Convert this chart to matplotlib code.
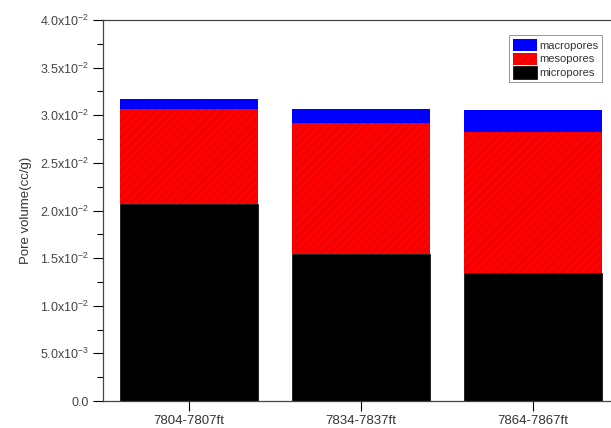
import matplotlib
matplotlib.use("Agg")
import matplotlib.pyplot as plt
from matplotlib.ticker import FixedLocator, MultipleLocator

categories = ["7804-7807ft", "7834-7837ft", "7864-7867ft"]
micropores = [0.0207, 0.0154, 0.0134]
mesopores = [0.0100, 0.0138, 0.0148]
macropores = [0.0010, 0.0015, 0.0023]

ytick_vals = [0.0, 0.005, 0.010, 0.015, 0.020, 0.025, 0.030, 0.035, 0.040]
ytick_labels = ["0.0", r"5.0x10$^{-3}$", r"1.0x10$^{-2}$", r"1.5x10$^{-2}$", r"2.0x10$^{-2}$",
                r"2.5x10$^{-2}$", r"3.0x10$^{-2}$", r"3.5x10$^{-2}$", r"4.0x10$^{-2}$"]

plt.rcParams['font.family'] = ['Liberation Sans', 'DejaVu Sans']
plt.rcParams['mathtext.fontset'] = 'custom'
plt.rcParams['mathtext.rm'] = 'Liberation Sans'
plt.rcParams['mathtext.it'] = 'Liberation Sans'
plt.rcParams['hatch.color'] = '#c00000'
plt.rcParams['hatch.linewidth'] = 0.6

fig = plt.figure(figsize=(6.11, 4.28), dpi=100)
ax = fig.add_axes([103/611, 27/428, (619-103)/611, (401-20)/428])

x = list(range(len(categories)))
w = 0.8
ax.bar(x, micropores, width=w, color='black', edgecolor='black', linewidth=0.5, label='micropores')
ax.bar(x, mesopores, width=w, bottom=micropores, color='#ff0000', edgecolor='#d00000',
       hatch='////', linewidth=0, label='mesopores')
bot2 = [a + b for a, b in zip(micropores, mesopores)]
ax.bar(x, macropores, width=w, bottom=bot2, color='#0000ff', edgecolor='#0000ff', linewidth=0,
       label='macropores')

ax.set_xlim(-0.5, len(categories) - 0.5)
ax.set_ylim(0, 0.040)
ax.set_xticks(x)
ax.set_xticklabels(categories, fontsize=9.5, color='#333333')
ax.yaxis.set_major_locator(FixedLocator(ytick_vals))
ax.set_yticklabels(ytick_labels, fontsize=9, color='#444444')
ax.yaxis.set_minor_locator(MultipleLocator(0.0025))
ax.tick_params(axis='y', which='major', direction='out', length=7, width=0.8, pad=3, right=True)
ax.tick_params(axis='y', which='minor', direction='out', length=4, width=0.8, right=True)
ax.tick_params(axis='x', which='major', direction='out', length=7, width=0.8, pad=3)
ax.set_ylabel("Pore volume(cc/g)", fontsize=9.5, color='#333333', labelpad=6)

for s in ax.spines.values():
    s.set_linewidth(0.9)
    s.set_color('#444444')

handles, labels = ax.get_legend_handles_labels()
leg = ax.legend(handles[::-1], labels[::-1], loc='upper right',
                bbox_to_anchor=((602-103)/(619-103), (401-35)/(401-20)),
                fontsize=8, frameon=True, fancybox=False, borderpad=0.35,
                handlelength=2.2, handleheight=1.3, handletextpad=0.15, labelspacing=0.15,
                borderaxespad=0)
leg.get_frame().set_edgecolor('#666666')
leg.get_frame().set_linewidth(0.6)
for t in leg.get_texts():
    t.set_color('#333333')

fig.savefig("out.png", dpi=100)
